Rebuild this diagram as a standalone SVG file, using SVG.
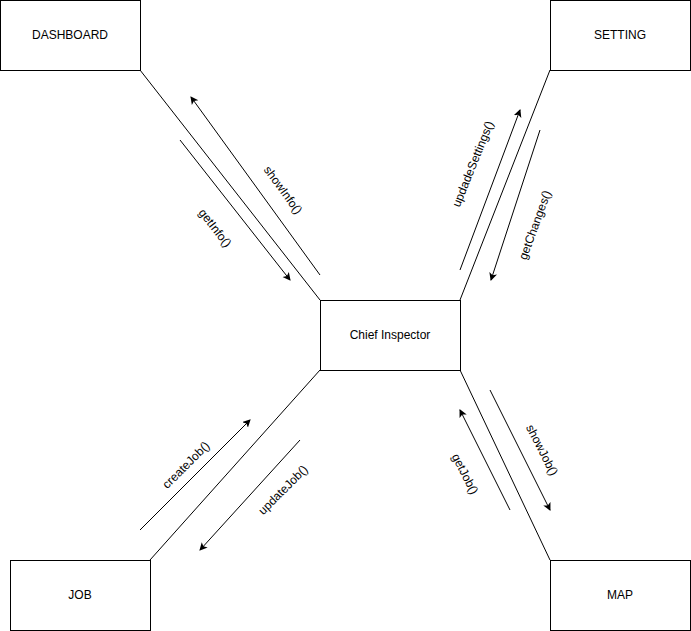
<svg xmlns="http://www.w3.org/2000/svg" width="691" height="631" viewBox="0 0 691 631">
<style>
.box{fill:#fff;stroke:#000;stroke-width:1}
.t{font-family:"Liberation Sans",Arial,sans-serif;font-size:12px;fill:#000;text-anchor:middle;dominant-baseline:central}
.l{stroke:#000;stroke-width:1;fill:none}
.a{stroke:#000;stroke-width:1;fill:none;marker-end:url(#ah)}
.lb{font-family:"Liberation Sans",Arial,sans-serif;font-size:12px;fill:#000;text-anchor:middle;dominant-baseline:central}
</style>
<defs>
<marker id="ah" markerWidth="10" markerHeight="10" refX="7" refY="4" orient="auto" markerUnits="userSpaceOnUse">
<path d="M0,0 L8,4 L0,8 L2,4 Z" fill="#000"/>
</marker>
</defs>
<g id="connectors">
<line class="l" x1="140" y1="70" x2="320" y2="300"/>
<line class="l" x1="550" y1="70" x2="460" y2="300"/>
<line class="l" x1="150" y1="560" x2="320" y2="370"/>
<line class="l" x1="550" y1="560" x2="460" y2="370"/>
<line class="a" x1="320" y1="275" x2="191" y2="97"/>
<line class="a" x1="180" y1="140" x2="290" y2="280"/>
<line class="a" x1="460" y1="270" x2="520" y2="110"/>
<line class="a" x1="540" y1="130" x2="491" y2="280"/>
<line class="a" x1="140" y1="530" x2="250" y2="420"/>
<line class="a" x1="300" y1="440" x2="200" y2="550"/>
<line class="a" x1="490" y1="390" x2="550" y2="510"/>
<line class="a" x1="510" y1="510" x2="460" y2="410"/>
<text class="lb" transform="translate(283,190) rotate(54)">showInfo()</text>
<text class="lb" transform="translate(215,228) rotate(52)">getInfo()</text>
<text class="lb" transform="translate(473,164) rotate(-68)">updadeSettings()</text>
<text class="lb" transform="translate(535,225) rotate(-70)">getChanges()</text>
<text class="lb" transform="translate(186,465) rotate(-45)">createJob()</text>
<text class="lb" transform="translate(283,490) rotate(-45)">updateJob()</text>
<text class="lb" transform="translate(542,450) rotate(63)">showJob()</text>
<text class="lb" transform="translate(465,474) rotate(63)">getJob()</text>
</g>
<g id="dashboard"><rect class="box" x="0.5" y="0.5" width="140" height="70"/><text class="t" x="70" y="35">DASHBOARD</text></g>
<g id="setting"><rect class="box" x="550.5" y="0.5" width="140" height="70"/><text class="t" x="620" y="35">SETTING</text></g>
<g id="chief"><rect class="box" x="320.5" y="300.5" width="140" height="70"/><text class="t" x="390" y="335">Chief Inspector</text></g>
<g id="job"><rect class="box" x="10.5" y="560.5" width="140" height="70"/><text class="t" x="80" y="595">JOB</text></g>
<g id="map"><rect class="box" x="550.5" y="560.5" width="140" height="70"/><text class="t" x="620" y="595">MAP</text></g>
</svg>
